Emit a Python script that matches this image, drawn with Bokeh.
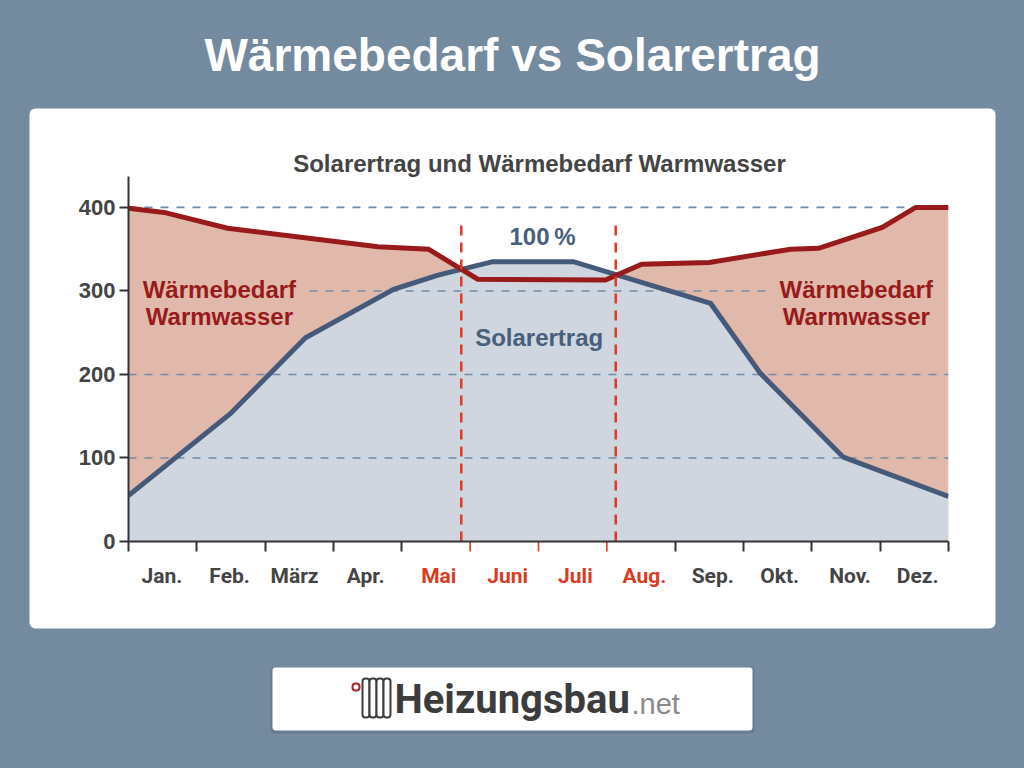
from bokeh.plotting import figure
from bokeh.core.properties import value
from bokeh.models import (BoxAnnotation, Label, FixedTicker, LinearAxis, Range1d)
from bokeh.embed import file_html
from bokeh.resources import INLINE

# ---- data -----
months = ["Jan.", "Feb.", "März", "Apr.", "Mai", "Juni", "Juli", "Aug.", "Sep.", "Okt.", "Nov.", "Dez."]
month_x = [0.49, 1.48, 2.43, 3.47, 4.54, 5.55, 6.54, 7.55, 8.55, 9.53, 10.56, 11.55]
month_colors = ["#444444"] * 4 + ["#DC3A22"] * 4 + ["#444444"] * 4
solar_x = [0, 1.49, 2.59, 3.88, 4.53, 5.33, 6.51, 8.52, 9.25, 10.46, 12]
solar_y = [55, 153, 244, 302, 319, 335, 335, 285, 201, 101, 54]
demand_x = [0, 0.52, 1.45, 3.65, 4.39, 5.11, 6.98, 7.51, 8.5, 9.69, 10.1, 11.03, 11.52, 12]
demand_y = [399, 394, 375, 353, 350, 314, 313, 332, 334, 350, 351, 376, 400, 400]
grid_v = [100, 200, 300, 400]
grid_x0 = [0, 0, 2.65, 0]
grid_x1 = [12, 12, 9.32, 12]
period_x = [4.87, 7.13]
period_top = [383, 383]
y_ticks = [0, 100, 200, 300, 400]
x_ticks_dark = [0, 1, 2, 3, 4, 8, 9, 10, 11, 12]
x_ticks_red = [5, 6, 7]

BG = "#748A9F"
SANS = "Liberation Sans"
L, R, T, B = 128, 948, 176, 541   # plot frame on the page
W, H = 1024, 768
PX_X = (R - L) / 12
PX_Y = (B - T) / 437
LAYER = {"position": "absolute", "left": "0", "top": "0"}

# back layer: frame fills the page, same data scale as the chart in front of it
bg = figure(width=W, height=H, output_backend="svg", toolbar_location=None,
            x_axis_location=None, y_axis_location=None,
            x_range=Range1d(-L / PX_X, (W - L) / PX_X), y_range=Range1d(-(H - B) / PX_Y, B / PX_Y),
            min_border=0, background_fill_color=BG, border_fill_color=BG, outline_line_color=None,
            styles=LAYER)
bg.grid.visible = False


def box(left, right, top, bottom, fill, alpha=1.0, line=None, lw=1, radius=0, level="underlay"):
    bg.add_layout(BoxAnnotation(left=left, right=right, top=top, bottom=bottom,
                                left_units="canvas", right_units="canvas", top_units="canvas",
                                bottom_units="canvas", fill_color=fill, fill_alpha=alpha,
                                line_color=line, line_alpha=1.0, line_width=lw, border_radius=radius,
                                level=level, editable=False))


# card and logo plate
box(29, 995, 108, 628, "#FFFFFF", radius=6)
box(270, 754, 667, 733, "#3F5468", alpha=0.25, radius=4)
box(272, 752, 667, 730, "#FFFFFF", radius=3)

# radiator icon
for left in (362, 369, 376, 383):
    box(left, left + 7, 678, 717, "#FFFFFF", line="#3C3C3C", lw=2, radius=3, level="annotation")
box(352, 359, 683, 690, "#FFFFFF", line="#B0202A", lw=2, radius=3, level="annotation")

# month labels and the red ticks of the summer months
bg.text(month_x, [0] * 12, text=months, y_offset=34, text_color=month_colors, text_font=value("Roboto"),
        text_font_style="bold", text_font_size="21px", text_align="center", text_baseline="middle")
bg.segment(x0=x_ticks_red, x1=x_ticks_red, y0=[0] * 3, y1=[-12] * 3, line_color="#DC3A22", line_width=1.6)


def page_label(x, y, text, color, size, font=SANS, style="bold", align="center"):
    bg.add_layout(Label(x=x, y=y, x_units="canvas", y_units="canvas", text=text,
                        text_color=color, text_font=font, text_font_style=style, text_font_size=size,
                        text_align=align, text_baseline="middle"))


page_label(512, 54, "Wärmebedarf vs Solarertrag", "#FFFFFF", "46px")
page_label(539, 163, "Solarertrag und Wärmebedarf Warmwasser", "#444444", "24px")
page_label(394, 699, "Heizungsbau", "#3C3C3C", "40px", font="Roboto", align="left")
page_label(631, 703, ".net", "#8A8A8A", "29px", style="normal", align="left")

# front layer: the chart itself
p = figure(width=W, height=H, output_backend="svg", toolbar_location=None,
           x_axis_location=None, y_axis_location=None,
           x_range=Range1d(0, 12), y_range=Range1d(0, 437),
           min_border_left=L, min_border_right=W - R, min_border_top=T, min_border_bottom=H - B,
           background_fill_color=None, border_fill_color=None, outline_line_color=None,
           styles=LAYER)
p.grid.visible = False

# fills
p.varea(demand_x, y1=0, y2=demand_y, fill_color="#E0B9AB")
p.varea(solar_x, y1=0, y2=solar_y, fill_color="#CFD6DF")

# dashed reference lines
for v, a, b in zip(grid_v, grid_x0, grid_x1):
    p.line([a, b], [v, v], line_color="#6F8DA8", line_width=1.6, line_dash=[8, 8])

# series
p.line(solar_x, solar_y, line_color="#45597A", line_width=5, line_join="miter")
p.line(demand_x, demand_y, line_color="#981A1A", line_width=5, line_join="miter")

# period markers
for x, top in zip(period_x, period_top):
    p.line([x, x], [0, top], line_color="#E03A24", line_width=2.5, line_dash=[10, 7])

# axes
yax = LinearAxis(ticker=FixedTicker(ticks=y_ticks), axis_line_color="#333333", axis_line_width=2,
                 major_tick_line_color="#333333", major_tick_line_width=2, major_tick_out=9,
                 major_tick_in=0, minor_tick_line_color=None, major_label_standoff=4,
                 major_label_text_font=SANS, major_label_text_font_style="bold",
                 major_label_text_font_size="22px", major_label_text_color="#444444")
p.add_layout(yax, "left")
xax = LinearAxis(ticker=FixedTicker(ticks=x_ticks_dark), axis_line_color="#333333", axis_line_width=2,
                 major_tick_line_color="#333333", major_tick_line_width=2, major_tick_out=10,
                 major_tick_in=0, minor_tick_line_color=None,
                 major_label_text_font_size="0px", major_label_text_color=None)
p.add_layout(xax, "below")


def data_label(x, y, text, color, size):
    p.add_layout(Label(x=x, y=y, text=text, text_color=color, text_font=SANS, text_font_style="bold",
                       text_font_size=size, text_align="center", text_baseline="middle"))


data_label(1.33, 302, "Wärmebedarf", "#981A1A", "24px")
data_label(1.33, 269, "Warmwasser", "#981A1A", "24px")
data_label(10.65, 302, "Wärmebedarf", "#981A1A", "24px")
data_label(10.65, 269, "Warmwasser", "#981A1A", "24px")
data_label(6.06, 365, "100\u2009%", "#48607C", "24px")
data_label(6.01, 244, "Solarertrag", "#48607C", "24px")

html = file_html([bg, p], INLINE)
html = html.replace("</head>", "<style>html,body{background:%s;}</style></head>" % BG, 1)
open("out.html", "w").write(html)
